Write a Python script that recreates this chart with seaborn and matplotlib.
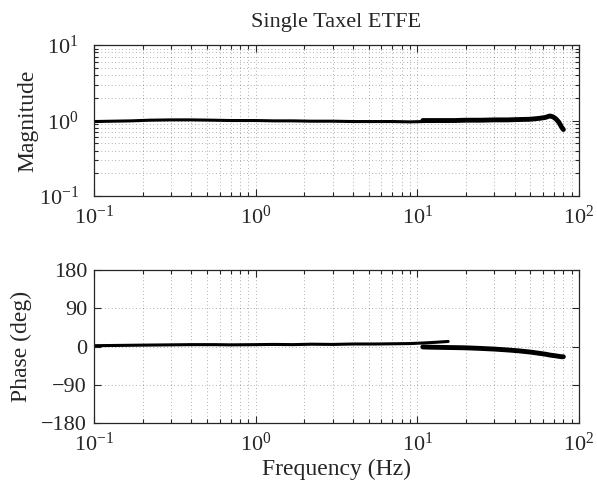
import numpy as np
import pandas as pd
import matplotlib
matplotlib.use('Agg')
import matplotlib.pyplot as plt
import matplotlib.ticker as mticker
import seaborn as sns

# segment 1: low frequency sweep
freq_low = [0.1, 0.13, 0.17, 0.22, 0.3, 0.4, 0.55, 0.7, 1.0, 1.3, 1.7, 2.2, 3.0, 4.0, 5.5, 7.0, 9.0, 11.0, 13.0, 15.5]
mag_low = [0.97, 0.98, 0.99, 1.01, 1.02, 1.02, 1.01, 1.00, 1.00, 0.99, 0.99, 0.98, 0.98, 0.97, 0.97, 0.97, 0.96, 0.97, 0.98, 0.98]
phase_low = [2.0, 2.5, 3.0, 3.5, 4.0, 4.5, 4.5, 4.0, 4.5, 5.0, 4.5, 5.5, 5.0, 6.0, 6.0, 6.5, 7.0, 8.5, 10.0, 12.0]

# segment 2: high frequency sweep
freq_high = [10.8, 12.0, 14.0, 17.0, 20.0, 25.0, 30.0, 36.0, 42.0, 50.0, 57.0, 62.0, 66.0, 69.0, 72.0, 75.0, 78.0, 80.0]
mag_high = [1.00, 1.00, 1.00, 1.00, 1.01, 1.01, 1.02, 1.02, 1.03, 1.04, 1.07, 1.10, 1.15, 1.12, 1.05, 0.95, 0.82, 0.76]
phase_high = [-1.0, -1.5, -2.0, -2.5, -3.0, -4.5, -6.0, -8.0, -10.0, -13.0, -16.0, -18.0, -20.0, -21.0, -22.0, -23.0, -24.0, -24.0]

sns.set_style('ticks')
plt.rcParams['font.family'] = ['Liberation Serif', 'DejaVu Serif']
plt.rcParams['mathtext.fontset'] = 'stix'
plt.rcParams['xtick.direction'] = 'in'
plt.rcParams['ytick.direction'] = 'in'

low = pd.DataFrame({'f': freq_low, 'mag': mag_low, 'phase': phase_low})
high = pd.DataFrame({'f': freq_high, 'mag': mag_high, 'phase': phase_high})

fig = plt.figure(figsize=(5.97, 4.87), dpi=100)
ax1 = fig.add_axes([0.1575, 0.5975, 0.8124, 0.310])
ax2 = fig.add_axes([0.1575, 0.1314, 0.8124, 0.314])

sns.lineplot(data=low, x='f', y='mag', color='black', linewidth=2.2, ax=ax1)
sns.lineplot(data=high, x='f', y='mag', color='black', linewidth=3.5, ax=ax1)
sns.lineplot(data=low, x='f', y='phase', color='black', linewidth=2.2, ax=ax2)
sns.lineplot(data=high, x='f', y='phase', color='black', linewidth=3.5, ax=ax2)

grid_kw = dict(color='black', linestyle=(0, (1, 4)), linewidth=0.5, alpha=0.6)
for ax in (ax1, ax2):
    ax.set_xscale('log')
    ax.set_xlim(0.1, 100)
    ax.xaxis.set_major_locator(mticker.LogLocator(base=10))
    ax.xaxis.set_minor_locator(mticker.LogLocator(base=10, subs=np.arange(2, 10)))
    ax.xaxis.set_minor_formatter(mticker.NullFormatter())
    ax.tick_params(which='both', top=True, right=True, labelsize=16, width=0.8)
    ax.tick_params(which='major', length=5)
    ax.tick_params(which='minor', length=3)
    ax.tick_params(axis='x', which='major', pad=7)
    ax.tick_params(axis='y', which='major', pad=5)
    ax.grid(True, which='major', **grid_kw)
    ax.grid(True, which='minor', axis='x', **grid_kw)
    for s in ax.spines.values():
        s.set_linewidth(0.9)
    ax.set_xlabel('')

ax1.set_yscale('log')
ax1.set_ylim(0.1, 10)
ax1.yaxis.set_major_locator(mticker.LogLocator(base=10))
ax1.yaxis.set_minor_locator(mticker.LogLocator(base=10, subs=np.arange(2, 10)))
ax1.yaxis.set_minor_formatter(mticker.NullFormatter())
ax1.tick_params(axis='y', which='major', pad=11)
ax1.grid(True, which='minor', axis='y', **grid_kw)
ax1.set_ylabel('Magnitude', fontsize=17)
ax1.yaxis.set_label_coords(-0.115, 0.5)
ax1.set_title('Single Taxel ETFE', fontsize=16, pad=13)

ax2.set_ylim(-180, 180)
ax2.set_yticks([-180, -90, 0, 90, 180])
ax2.set_yticklabels(['\u2212180', '\u221290', '0', '90', '180'])
ax2.set_ylabel('Phase (deg)', fontsize=17)
ax2.yaxis.set_label_coords(-0.128, 0.5)
ax2.set_xlabel('Frequency (Hz)', fontsize=17, labelpad=2)

fig.savefig('out.png', dpi=100)
